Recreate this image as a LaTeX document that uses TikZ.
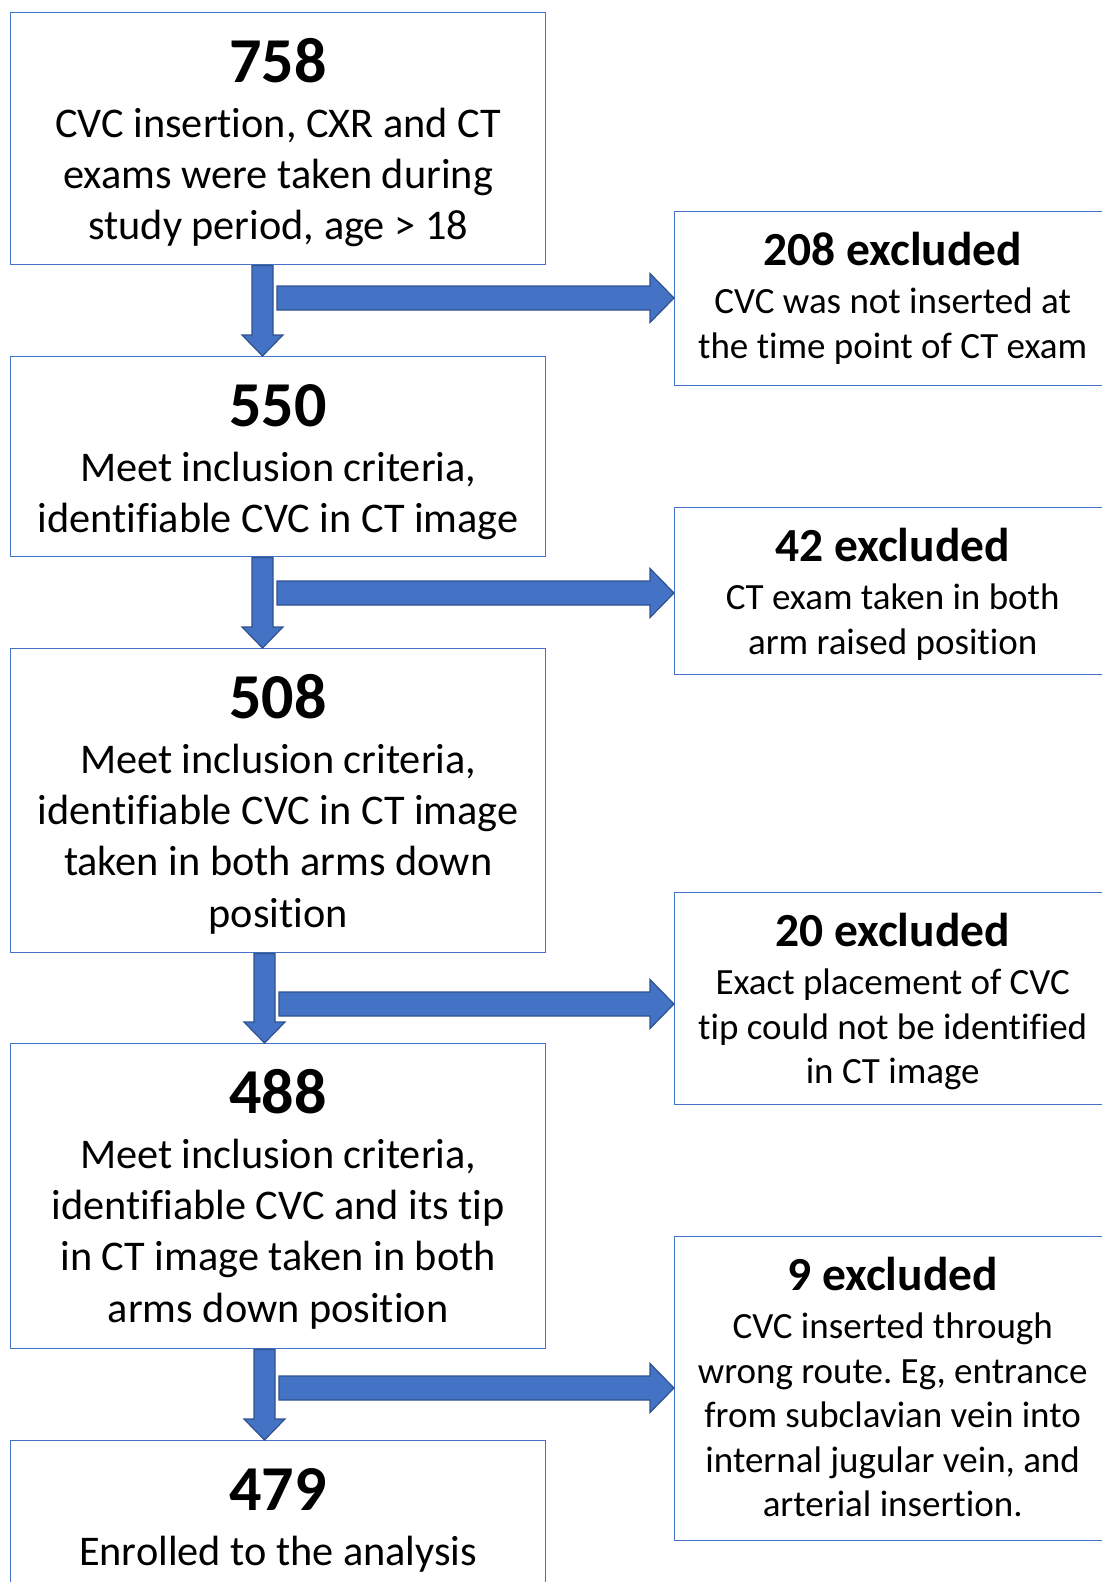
\documentclass[tikz,border=0pt]{standalone}
\usepackage{fontspec}
\setmainfont{Carlito}[Ligatures=NoCommon]
\usetikzlibrary{calc}
\frenchspacing
\definecolor{bfill}{HTML}{4472C4}
\definecolor{bdark}{HTML}{2F528F}
\newcommand\dnarr[3]{\filldraw[arr] let \p1=(#1.south), \p2=(#2.north) in
  (#3-10.5,\y1) -- (#3+10.5,\y1) -- (#3+10.5,\y2+21pt) -- (#3+20.5,\y2+21pt) -- (#3,\y2)
  -- (#3-20.5,\y2+21pt) -- (#3-10.5,\y2+21pt) -- cycle;}
\newcommand\rtarr[3]{\filldraw[arr] let \p2=(#3.west) in
  (#2,#1+12) -- (\x2-24pt,#1+12) -- (\x2-24pt,#1+24.5) -- (\x2,#1) -- (\x2-24pt,#1-24.5)
  -- (\x2-24pt,#1-12) -- (#2,#1-12) -- cycle;}
\begin{document}
\begin{tikzpicture}[x=1pt,y=1pt,
  box/.style={draw=bfill, line width=1.4pt, fill=white, inner sep=0pt, anchor=north west},
  lbox/.style={box, minimum width=535},
  rbox/.style={box, minimum width=436},
  ltxt/.style={anchor=north, align=center, inner sep=0pt, font=\fontsize{42.3}{51.3}\selectfont},
  rtxt/.style={anchor=north, align=center, inner sep=0pt, font=\fontsize{37}{44.5}\selectfont},
  arr/.style={fill=bfill, draw=bdark, line width=1.2pt, line join=miter}]
\clip (0,0) rectangle (1102,-1582);
\useasboundingbox (0,0) rectangle (1102,-1582);
\newcommand\lh[1]{{\rule{0pt}{50pt}\fontsize{64}{51.3}\selectfont\bfseries #1}\\[3.7pt]}
\newcommand\rh[1]{{\rule{0pt}{40pt}\fontsize{47.5}{44.5}\selectfont\bfseries #1}\\[3.8pt]}
% left boxes
\node[lbox, minimum height=252] (b1) at (10,-12) {};
\node[lbox, minimum height=200] (b2) at (10,-356) {};
\node[lbox, minimum height=304] (b3) at (10,-648) {};
\node[lbox, minimum height=305] (b4) at (10,-1043) {};
\node[lbox, minimum height=250] (b5) at (10,-1440) {};
% right boxes
\node[rbox, minimum height=174] (e1) at (674,-211) {};
\node[rbox, minimum height=167] (e2) at (674,-507) {};
\node[rbox, minimum height=212] (e3) at (674,-892) {};
\node[rbox, minimum height=304] (e4) at (674,-1236) {};
% texts
\node[ltxt] (t1) at ([yshift=-20]b1.north) {\lh{758}CVC insertion, CXR and CT\\exams were taken during\\study period, age > 18};
\node[ltxt] (t2) at ([yshift=-20]b2.north) {\lh{550}Meet inclusion criteria,\\identifiable CVC in CT image};
\node[ltxt] (t3) at ([yshift=-20]b3.north) {\lh{508}Meet inclusion criteria,\\identifiable CVC in CT image\\taken in both arms down\\position};
\node[ltxt] (t4) at ([yshift=-20]b4.north) {\lh{488}Meet inclusion criteria,\\identifiable CVC and its tip\\in CT image taken in both\\arms down position};
\node[ltxt] (t5) at ([yshift=-20]b5.north) {\lh{479}Enrolled to the analysis};
\node[rtxt] (s1) at ([yshift=-14]e1.north) {\rh{208 excluded}CVC was not inserted at\\the time point of CT exam};
\node[rtxt] (s2) at ([yshift=-14]e2.north) {\rh{42 excluded}CT exam taken in both\\arm raised position};
\node[rtxt] (s3) at ([yshift=-14]e3.north) {\rh{20 excluded}Exact placement of CVC\\tip could not be identified\\in CT image};
\node[rtxt] (s4) at ([yshift=-14]e4.north) {\rh{9 excluded}CVC inserted through\\wrong route. Eg, entrance\\from subclavian vein into\\internal jugular vein, and\\arterial insertion.};
% arrows
\dnarr{b1}{b2}{262.5}
\dnarr{b2}{b3}{262.5}
\dnarr{b3}{b4}{264.5}
\dnarr{b4}{b5}{264.5}
\rtarr{-298}{277}{e1}
\rtarr{-593}{277}{e2}
\rtarr{-1004}{279}{e3}
\rtarr{-1388}{279}{e4}
\end{tikzpicture}
\end{document}
